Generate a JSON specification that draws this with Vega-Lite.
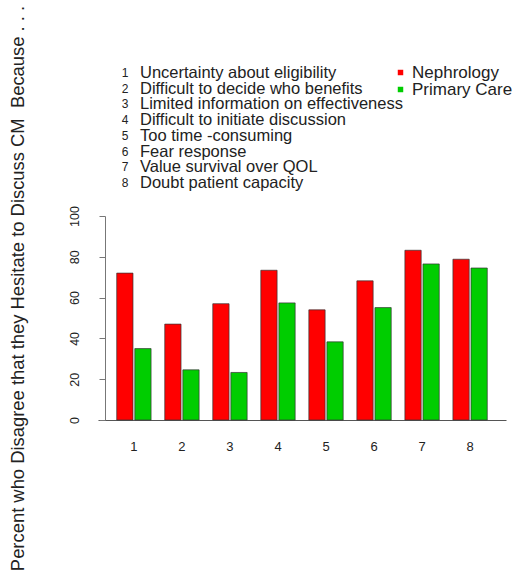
{
  "$schema": "https://vega.github.io/schema/vega-lite/v6.json",
  "padding": {"left": 7, "top": 5, "right": 5, "bottom": 5},
  "background": "white",
  "bounds": "flush",
  "spacing": 25,
  "config": {
    "view": {"stroke": null},
    "font": "Liberation Sans",
    "axis": {"domainColor": "#555", "tickColor": "#555", "labelColor": "#222", "titleColor": "#222", "labelFont": "Liberation Sans", "titleFont": "Liberation Sans"},
    "legend": {"labelFont": "Liberation Sans", "labelColor": "#222"},
    "text": {"font": "Liberation Sans", "color": "#222"}
  },
  "datasets": {
    "items": [
      {"item": 1, "label": "Uncertainty about eligibility"},
      {"item": 2, "label": "Difficult to decide who benefits"},
      {"item": 3, "label": "Limited information on effectiveness"},
      {"item": 4, "label": "Difficult to initiate discussion"},
      {"item": 5, "label": "Too time -consuming"},
      {"item": 6, "label": "Fear response"},
      {"item": 7, "label": "Value survival over QOL"},
      {"item": 8, "label": "Doubt patient capacity"}
    ],
    "bars": [
      {"item": 1, "group": "Nephrology", "pct": 72},
      {"item": 1, "group": "Primary Care", "pct": 35},
      {"item": 2, "group": "Nephrology", "pct": 47},
      {"item": 2, "group": "Primary Care", "pct": 24.6},
      {"item": 3, "group": "Nephrology", "pct": 57},
      {"item": 3, "group": "Primary Care", "pct": 23.3},
      {"item": 4, "group": "Nephrology", "pct": 73.4},
      {"item": 4, "group": "Primary Care", "pct": 57.4},
      {"item": 5, "group": "Nephrology", "pct": 54},
      {"item": 5, "group": "Primary Care", "pct": 38.3},
      {"item": 6, "group": "Nephrology", "pct": 68.2},
      {"item": 6, "group": "Primary Care", "pct": 55.1},
      {"item": 7, "group": "Nephrology", "pct": 83.2},
      {"item": 7, "group": "Primary Care", "pct": 76.5},
      {"item": 8, "group": "Nephrology", "pct": 78.8},
      {"item": 8, "group": "Primary Care", "pct": 74.5}
    ]
  },
  "vconcat": [
    {
      "width": 150,
      "height": 126,
      "data": {"name": "items"},
      "layer": [
        {
          "mark": {"type": "text", "fontSize": 12, "align": "center", "baseline": "middle"},
          "encoding": {
            "x": {"datum": 0, "type": "quantitative", "scale": {"domain": [-1.8, 8.2], "nice": false, "zero": false}, "axis": null},
            "y": {"field": "item", "type": "ordinal", "scale": {"type": "point", "padding": 0.5}, "axis": null},
            "text": {"field": "item", "type": "nominal"}
          }
        },
        {
          "mark": {"type": "text", "fontSize": 16.5, "align": "left", "baseline": "middle"},
          "encoding": {
            "x": {"datum": 1, "type": "quantitative"},
            "y": {"field": "item", "type": "ordinal"},
            "text": {"field": "label", "type": "nominal"}
          }
        }
      ]
    },
    {
      "width": 408,
      "height": 204,
      "data": {"name": "bars"},
      "mark": {"type": "bar", "stroke": "#333", "strokeWidth": 0.7},
      "encoding": {
        "x": {
          "field": "item", "type": "ordinal",
          "scale": {"paddingInner": 0.285, "paddingOuter": 0.39},
          "axis": {"title": null, "labelAngle": 0, "ticks": false, "labelPadding": 20, "labelFontSize": 13}
        },
        "xOffset": {"field": "group", "type": "nominal", "scale": {"paddingInner": 0.1}},
        "y": {
          "field": "pct", "type": "quantitative",
          "scale": {"domain": [0, 100], "nice": false},
          "axis": {
            "values": [0, 20, 40, 60, 80, 100], "grid": false, "labelAngle": -90, "labelFontSize": 12.5,
            "offset": -7, "domainColor": "#777", "tickColor": "#777",
            "tickSize": 6, "labelPadding": 18,
            "title": "Percent who Disagree that they Hesitate to Discuss CM\u00a0 Because . . .",
            "titleFontSize": 18.4, "titleFontWeight": "normal", "titleAngle": -90,
            "titleX": -88, "titleY": 72, "titleAlign": "center", "titleBaseline": "middle"
          }
        },
        "color": {
          "field": "group", "type": "nominal",
          "scale": {"domain": ["Nephrology", "Primary Care"], "range": ["#ff0000", "#00cd00"]},
          "legend": {
            "title": null, "orient": "none", "legendX": 294, "legendY": -1,
            "symbolType": "square", "symbolSize": 30, "symbolStrokeWidth": 0,
            "labelFontSize": 17, "labelOffset": 3, "rowPadding": -2, "padding": 0
          }
        }
      }
    }
  ]
}
